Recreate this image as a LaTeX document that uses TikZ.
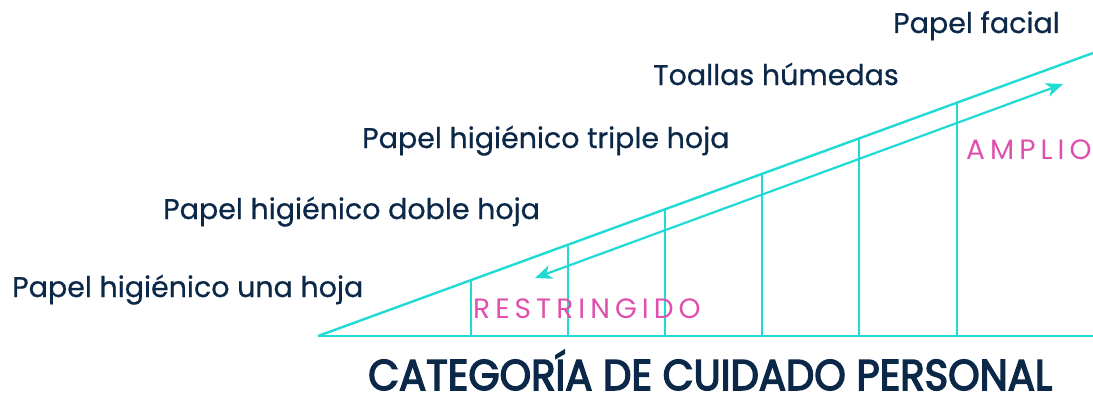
\documentclass[tikz,border=0pt]{standalone}
\usepackage{fontspec}
\setmainfont{Poppins}
\usetikzlibrary{arrows.meta}
\definecolor{cyanline}{RGB}{32,218,212}
\definecolor{navy}{RGB}{12,40,72}
\definecolor{pinktxt}{RGB}{222,80,172}
\tikzset{
  line/.style={draw=cyanline, line width=2.4pt},
  mytip/.tip={Stealth[length=17pt,width=14pt,inset=5pt]},
  lbl/.style={text=navy, font=\fontsize{28.5}{32}\selectfont\addfontfeatures{FakeBold=0.6}, inner sep=0pt, anchor=base west},
  pk/.style={text=pinktxt, font=\fontsize{28}{32}\selectfont\addfontfeatures{LetterSpace=18}, inner sep=0pt, anchor=base west},
  ttl/.style={text=navy, font=\fontsize{43}{46}\selectfont\addfontfeatures{FakeBold=3.5}, inner sep=0pt, anchor=base west},
}
\begin{document}
\begin{tikzpicture}[x=1pt,y=-1pt]
\useasboundingbox (0,0) rectangle (1093,396);
\coordinate (A) at (318,336);
\coordinate (B) at (1093,336);
\coordinate (C) at (1093,53);
\draw[line] (A) -- (B);
\draw[line] (A) -- (C);
\foreach \x/\y [count=\i] in {471/280.1,568/244.7,665/209.3,762/173.9,859/138.4,957/102.6}{
  \coordinate (b\i) at (\x,336);
  \coordinate (t\i) at (\x,\y);
  \draw[line] (b\i) -- (t\i);
}
\coordinate (ar1) at (535,278);
\coordinate (ar2) at (1063,84);
\draw[line, line width=2.2pt, mytip-mytip] (ar1) -- (ar2);
\node[lbl] (l1) at (893,33) {Papel facial};
\node[lbl] (l2) at (653,85) {Toallas húmedas};
\node[lbl] (l3) at (362,148) {Papel higiénico triple hoja};
\node[lbl] (l4) at (163,219) {Papel higiénico doble hoja};
\node[lbl] (l5) at (12,297) {Papel higiénico una hoja};
\node[pk] (r) at (473,318) {RESTRINGIDO};
\node[pk] (a) at (966,159) {AMPLIO};
\node[ttl] (t) at (368,390) {\resizebox{684pt}{\height}{CATEGORÍA DE CUIDADO PERSONAL}};
\end{tikzpicture}
\end{document}
